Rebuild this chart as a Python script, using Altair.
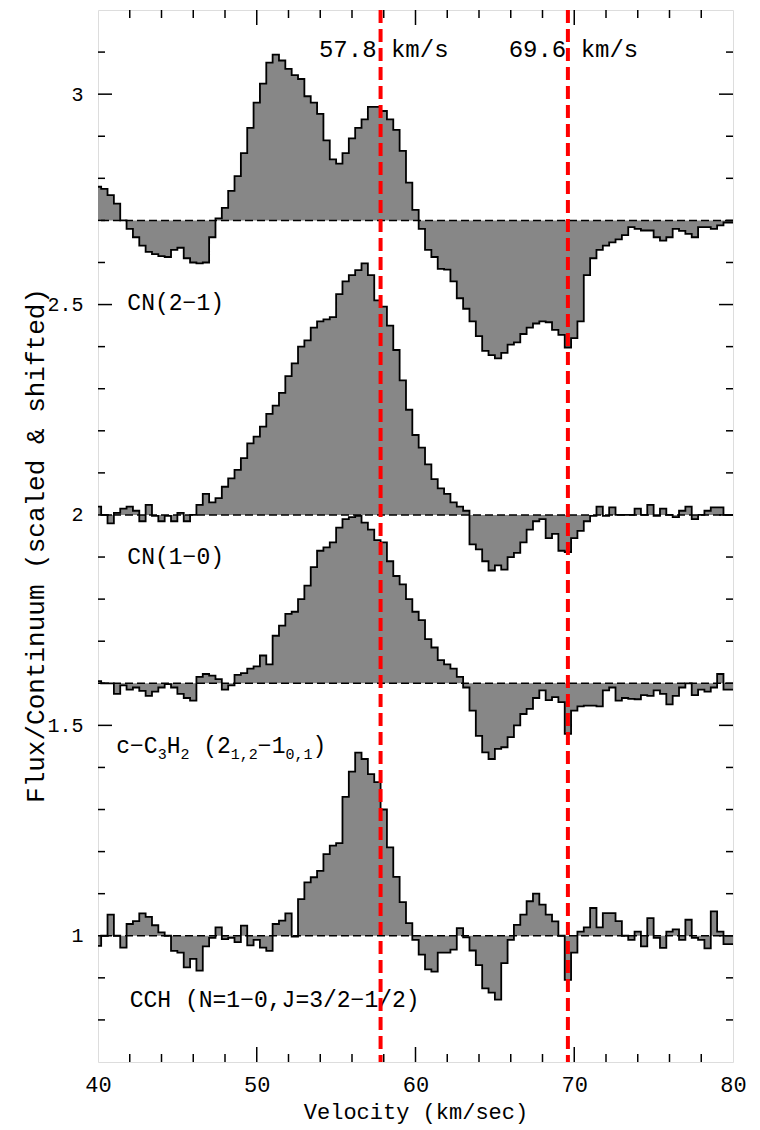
import altair as alt
import pandas as pd

# ---------------- data ----------------
V_START = 40.0      # first channel velocity (km/s)
V_STEP = 0.4        # channel spacing (km/s)

cn21 = [2.78, 2.775, 2.76, 2.74, 2.70, 2.68, 2.66, 2.64, 2.625, 2.62,
        2.615, 2.613, 2.63, 2.635, 2.61, 2.60, 2.598, 2.60, 2.66, 2.705,
        2.73, 2.77, 2.805, 2.86, 2.92, 2.98, 3.025, 3.075, 3.094, 3.08,
        3.06, 3.045, 3.036, 2.995, 2.98, 2.953, 2.89, 2.845, 2.835, 2.86,
        2.895, 2.92, 2.94, 2.97, 2.97, 2.96, 2.94, 2.915, 2.865, 2.79,
        2.725, 2.68, 2.63, 2.613, 2.585, 2.583, 2.555, 2.515, 2.49, 2.46,
        2.425, 2.39, 2.38, 2.372, 2.385, 2.405, 2.41, 2.43, 2.445, 2.455,
        2.46, 2.458, 2.44, 2.428, 2.398, 2.42, 2.46, 2.57, 2.61, 2.63,
        2.64, 2.648, 2.655, 2.665, 2.684, 2.68, 2.676, 2.676, 2.66, 2.652,
        2.66, 2.68, 2.675, 2.668, 2.66, 2.684, 2.684, 2.68, 2.688, 2.695]

cn10 = [2.02, 2.00, 1.98, 2.005, 2.015, 2.02, 2.01, 1.985, 2.024, 1.998,
        1.985, 1.998, 1.985, 2.005, 1.985, 2.0, 2.024, 2.05, 2.03, 2.04,
        2.067, 2.087, 2.107, 2.135, 2.17, 2.186, 2.21, 2.24, 2.26, 2.29,
        2.33, 2.36, 2.40, 2.415, 2.445, 2.46, 2.465, 2.47, 2.525, 2.555,
        2.57, 2.582, 2.598, 2.57, 2.51, 2.495, 2.45, 2.392, 2.32, 2.25,
        2.19, 2.16, 2.12, 2.085, 2.063, 2.05, 2.03, 2.02, 2.01, 1.93,
        1.918, 1.89, 1.868, 1.88, 1.87, 1.9, 1.91, 1.935, 1.965, 1.985,
        1.99, 1.945, 1.955, 1.915, 1.912, 1.945, 1.962, 1.985, 1.998, 2.02,
        1.998, 2.018, 2.0, 2.0, 2.0, 2.015, 2.0, 2.024, 1.998, 2.015,
        2.0, 1.995, 2.01, 2.02, 1.99, 2.0, 2.01, 2.018, 2.018, 2.0]

c3h2 = [1.605, 1.60, 1.60, 1.575, 1.595, 1.585, 1.59, 1.582, 1.57, 1.58,
        1.59, 1.598, 1.59, 1.575, 1.565, 1.559, 1.615, 1.622, 1.618, 1.61,
        1.585, 1.595, 1.62, 1.624, 1.635, 1.64, 1.666, 1.645, 1.713, 1.737,
        1.765, 1.77, 1.80, 1.832, 1.876, 1.915, 1.923, 1.935, 1.97, 1.99,
        1.995, 1.998, 1.982, 1.965, 1.94, 1.935, 1.89, 1.855, 1.835, 1.80,
        1.77, 1.75, 1.705, 1.685, 1.655, 1.645, 1.635, 1.615, 1.59, 1.535,
        1.475, 1.436, 1.42, 1.444, 1.448, 1.472, 1.50, 1.527, 1.539, 1.565,
        1.583, 1.56, 1.567, 1.555, 1.48, 1.535, 1.545, 1.547, 1.547, 1.545,
        1.583, 1.59, 1.559, 1.565, 1.563, 1.562, 1.572, 1.57, 1.583, 1.575,
        1.55, 1.57, 1.59, 1.6, 1.572, 1.585, 1.58, 1.59, 1.622, 1.585]

cch = [0.976, 1.0, 1.05, 1.0, 0.972, 1.028, 1.035, 1.053, 1.045, 1.025,
       1.008, 1.0, 0.964, 0.96, 0.925, 0.945, 0.917, 0.975, 0.995, 1.02,
       0.992, 0.995, 0.985, 1.024, 0.977, 0.99, 0.972, 0.964, 1.028, 1.036,
       1.053, 0.998, 1.087, 1.127, 1.139, 1.154, 1.194, 1.214, 1.22, 1.33,
       1.39, 1.435, 1.42, 1.384, 1.365, 1.30, 1.21, 1.14, 1.08, 1.03,
       0.99, 0.955, 0.92, 0.915, 0.96, 0.96, 0.967, 1.018, 0.996, 0.965,
       0.93, 0.875, 0.865, 0.848, 0.935, 0.99, 1.026, 1.05, 1.082, 1.10,
       1.074, 1.05, 1.034, 1.0, 0.895, 0.96, 1.01, 1.02, 1.066, 1.02,
       1.054, 1.054, 1.035, 1.0, 0.99, 1.01, 0.975, 1.042, 0.995, 0.971,
       1.01, 1.015, 0.99, 1.038, 0.995, 0.99, 0.97, 1.058, 1.01, 0.98]

series_names = ["CN(2-1)", "CN(1-0)", "c-C3H2", "CCH"]
series_values = [cn21, cn10, c3h2, cch]
baselines = [2.7, 2.0, 1.6, 1.0]

marker_velocities = [57.8, 69.6]

x_major_ticks = [50, 60, 70]
x_minor_ticks = [42, 44, 46, 48, 52, 54, 56, 58, 62, 64, 66, 68, 72, 74, 76, 78]
y_major_ticks = [1.0, 1.5, 2.0, 2.5, 3.0]
y_minor_ticks = [0.8, 0.9, 1.1, 1.2, 1.3, 1.4, 1.6, 1.7, 1.8, 1.9, 2.1, 2.2,
                 2.3, 2.4, 2.6, 2.7, 2.8, 2.9, 3.1]
x_label_values = [40, 50, 60, 70, 80]
y_label_values = [1.0, 1.5, 2.0, 2.5, 3.0]

plain_labels = ["57.8 km/s", "69.6 km/s", "CN(2\u22121)", "CN(1\u22120)",
                "CCH (N=1\u22120,J=3/2\u22121/2)"]
plain_label_v = [58.0, 69.95, 41.85, 41.85, 42.0]
plain_label_y = [3.105, 3.105, 2.504, 1.90, 0.848]
plain_label_align = ["center", "center", "left", "left", "left"]
plain_label_size = [24, 24, 23, 23, 23]

# ---------------- layout ----------------
W, H = 635, 1052
FONT = "Liberation Mono"
PX_PER_KMS = W / 40.0

# ---------------- tables ----------------
rows = []
for name, vals, base in zip(series_names, series_values, baselines):
    for i, f in enumerate(vals):
        rows.append({"series": name, "v": V_START + V_STEP * i, "flux": f, "base": base})
    rows.append({"series": name, "v": 80.0, "flux": vals[-1], "base": base})
spec_df = pd.DataFrame(rows)

base_df = pd.DataFrame({"base": baselines})
mark_df = pd.DataFrame({"v": marker_velocities})
lab_df = pd.DataFrame({"text": plain_labels, "v": plain_label_v, "y": plain_label_y,
                       "align": plain_label_align, "size": plain_label_size})

# c-C3H2 (2_{1,2}-1_{0,1}) label made of normal and subscript pieces
# (text, is_subscript, extra gap in characters before the piece)
pieces = [("c\u2212C", False, 0), ("3", True, 0), ("H", False, 0), ("2", True, 0),
          ("(2", False, 1), ("1,2", True, 0), ("\u22121", False, 0), ("0,1", True, 0),
          (")", False, 0)]
MAIN_FS, SUB_FS = 23, 15
pos = 41.15
prow = []
for txt, sub, gap in pieces:
    fs = SUB_FS if sub else MAIN_FS
    pos += gap * 0.6 * MAIN_FS / PX_PER_KMS
    prow.append({"text": txt, "v": pos, "y": 1.421 if sub else 1.435, "sub": sub})
    pos += len(txt) * 0.6 * fs / PX_PER_KMS
piece_df = pd.DataFrame(prow)

xscale = alt.Scale(domain=[40, 80], nice=False, zero=False)
yscale = alt.Scale(domain=[0.7, 3.2], nice=False, zero=False)

xaxis = alt.Axis(values=x_label_values, ticks=False, tickSize=0, domain=False, grid=False,
                 labelFont=FONT, labelFontSize=22, labelColor="black", labelPadding=12,
                 labelFlush=False, title="Velocity (km/sec)", titleFont=FONT,
                 titleFontSize=22, titleFontWeight="normal", titleColor="black",
                 titleY=49, titleBaseline="middle")
yaxis = alt.Axis(values=y_label_values, format=".1~f", ticks=False, tickSize=0, domain=False,
                 grid=False, labelFont=FONT, labelFontSize=20, labelColor="black",
                 labelPadding=15, labelFlush=False,
                 title="Flux/Continuum (scaled & shifted)", titleFont=FONT,
                 titleFontSize=26, titleFontWeight="normal", titleColor="black",
                 titleX=-63, titleY=535, titleAngle=270, titleBaseline="middle",
                 titleAlign="center")

area = alt.Chart(spec_df).mark_area(interpolate="step", color="#878787", clip=True).encode(
    x=alt.X("v:Q", scale=xscale, axis=xaxis),
    y=alt.Y("flux:Q", scale=yscale, axis=yaxis, stack=None),
    y2="base:Q",
    detail="series:N",
)

outline = alt.Chart(spec_df).mark_line(interpolate="step", color="black", strokeWidth=1.8,
                                       clip=True).encode(
    x=alt.X("v:Q", scale=xscale),
    y=alt.Y("flux:Q", scale=yscale),
    detail="series:N",
)

base_rules = alt.Chart(base_df).mark_rule(color="black", strokeWidth=1.5,
                                          strokeDash=[8, 4]).encode(
    y=alt.Y("base:Q", scale=yscale)
)

red_rules = alt.Chart(mark_df).mark_rule(color="#ff0000", strokeWidth=4,
                                         strokeDash=[13, 6]).encode(
    x=alt.X("v:Q", scale=xscale)
)

def xticks(vals, length):
    d = pd.DataFrame({"t": vals})
    bottom = alt.Chart(d).mark_rule(color="black", strokeWidth=1.5).encode(
        x=alt.X("t:Q", scale=xscale), y=alt.value(H), y2=alt.value(H - length))
    top = alt.Chart(d).mark_rule(color="black", strokeWidth=1.5).encode(
        x=alt.X("t:Q", scale=xscale), y=alt.value(0), y2=alt.value(length))
    return [bottom, top]

def yticks(vals, length):
    d = pd.DataFrame({"t": vals})
    left = alt.Chart(d).mark_rule(color="black", strokeWidth=1.5).encode(
        y=alt.Y("t:Q", scale=yscale), x=alt.value(0), x2=alt.value(length))
    right = alt.Chart(d).mark_rule(color="black", strokeWidth=1.5).encode(
        y=alt.Y("t:Q", scale=yscale), x=alt.value(W), x2=alt.value(W - length))
    return [left, right]

tick_layers = (xticks(x_major_ticks, 15) + xticks(x_minor_ticks, 8)
               + yticks(y_major_ticks, 14) + yticks(y_minor_ticks, 7))

label_layers = []
for al in ["center", "left"]:
    for fs in [23, 24]:
        sub = lab_df[(lab_df["align"] == al) & (lab_df["size"] == fs)]
        if len(sub) == 0:
            continue
        label_layers.append(
            alt.Chart(sub).mark_text(font=FONT, fontSize=fs, align=al, baseline="middle",
                                     color="black").encode(
                x=alt.X("v:Q", scale=xscale), y=alt.Y("y:Q", scale=yscale), text="text:N"))

for is_sub, fs in [(False, MAIN_FS), (True, SUB_FS)]:
    d = piece_df[piece_df["sub"] == is_sub]
    label_layers.append(
        alt.Chart(d).mark_text(font=FONT, fontSize=fs, align="left", baseline="alphabetic",
                               color="black").encode(
            x=alt.X("v:Q", scale=xscale), y=alt.Y("y:Q", scale=yscale), text="text:N"))

chart = alt.layer(area, outline, base_rules, *tick_layers, *label_layers, red_rules).properties(
    width=W, height=H,
    autosize=alt.AutoSizeParams(type="none"),
    padding={"left": 98, "top": 10, "right": 27, "bottom": 68},
).configure_view(stroke="black", strokeWidth=2).configure(background="white")

chart.save("out.html", embed_options={"renderer": "svg", "actions": False})
